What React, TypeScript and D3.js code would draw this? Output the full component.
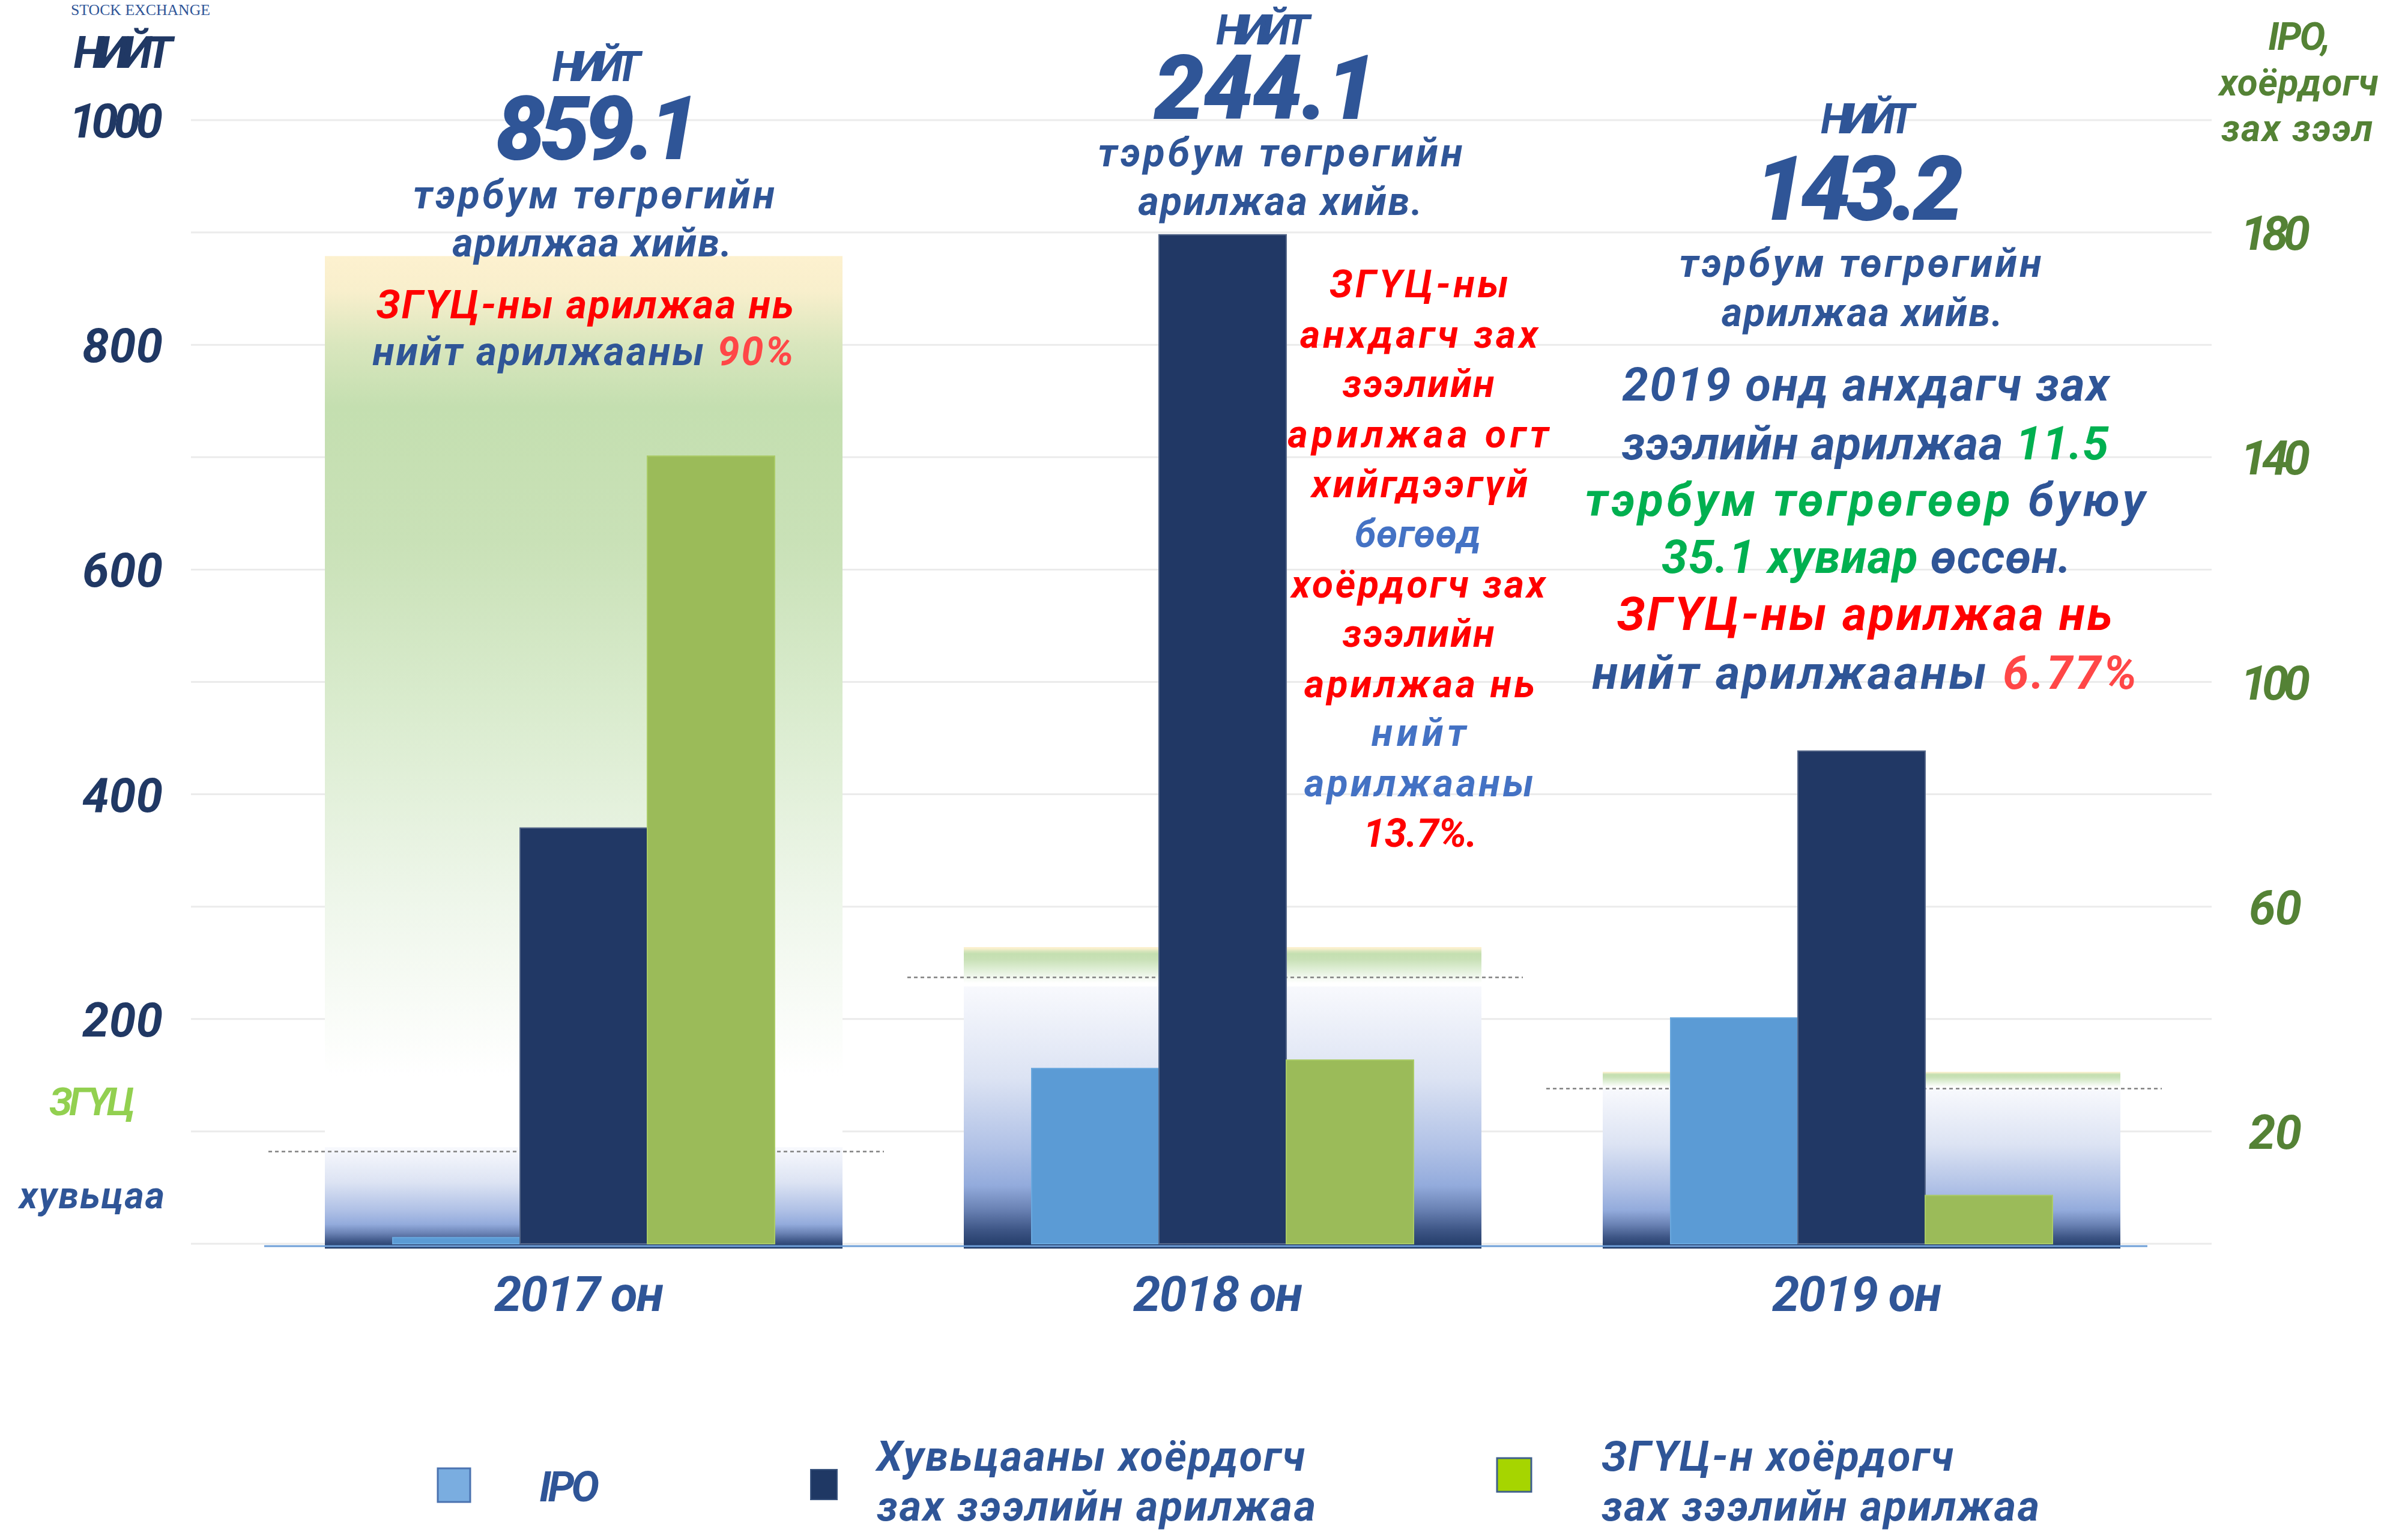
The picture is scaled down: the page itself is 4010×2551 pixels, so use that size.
import React from "react";
import * as d3 from "d3";

const W = 4010;
const H = 2551;

// ---------------- data ----------------
const years = ["2017 он", "2018 он", "2019 он"];
const seriesKeys = ["ipo", "stock", "gov"];
// right axis (IPO, secondary market), billion MNT
const ipoValues = [1.1, 31.2, 40.2];
const stockSecondaryValues = [74.0, 179.6, 87.7];
const govSecondaryValues = [140.2, 32.7, 8.6];
// left axis (total), background bands as drawn
const totalBandValues = [879, 264, 153];
const stockBandValues = [86, 229, 138];
const dividerValues = [82, 237, 138];
const totalLabels = ["859.1", "244.1", "143.2"];
const leftTicks = [200, 400, 600, 800, 1000];
const rightTicks = [20, 60, 100, 140, 180];

const seriesValues: Record<string, number[]> = {
  ipo: ipoValues,
  stock: stockSecondaryValues,
  gov: govSecondaryValues,
};
const seriesFill: Record<string, string> = { ipo: "#5b9bd5", stock: "#213865", gov: "#9bbb59" };
const seriesStroke: Record<string, string> = { ipo: "#6aa8de", stock: "#56688a", gov: "#aacb66" };

// ---------------- style ----------------
const FONT = "Roboto, 'Noto Sans', 'Open Sans', 'DejaVu Sans', sans-serif";
const NAVY = "#203864";
const BLUE = "#2f5597";
const LBLUE = "#4472c4";
const RED = "#ff0000";
const PINK = "#ff4747";
const AXGREEN = "#548235";
const GREEN = "#00b050";
const LIME = "#92d050";

type Part = { t: string; c: string };

function TLine(props: {
  x: number;
  y: number;
  size: number;
  len?: number;
  parts: Part[];
  anchor?: string;
  family?: string;
  italic?: boolean;
  weight?: number;
  adjust?: string;
}) {
  const { x, y, size, len, parts, anchor = "middle", family = FONT, italic = true, weight = 700, adjust = "spacing" } = props;
  return (
    <text
      x={x}
      y={y}
      fontSize={size}
      textLength={len}
      lengthAdjust={len ? adjust : undefined}
      textAnchor={anchor}
      fontFamily={family}
      fontStyle={italic ? "italic" : "normal"}
      fontWeight={weight}
      style={{ whiteSpace: "pre" }}
    >
      {parts.map((p, i) => (
        <tspan key={i} fill={p.c}>
          {p.t}
        </tspan>
      ))}
    </text>
  );
}

export default function App() {
  const yLeft = d3.scaleLinear().domain([0, 1000]).range([2071, 200]);
  const yRight = d3.scaleLinear().domain([0, 200]).range([2071, 200]);
  const x = d3.scalePoint<string>().domain(years).range([972, 3100]);
  const sub = d3.scaleBand<string>().domain(seriesKeys).range([-318, 318]);
  const bandHalf = 431;
  const base = yLeft(0);

  return (
    <svg
      width={W}
      height={H}
      viewBox={`0 0 ${W} ${H}`}
      style={{ position: "absolute", left: 0, top: 0, background: "#ffffff" }}
    >
      <defs>
        <linearGradient id="gradGov" x1="0" y1="0" x2="0" y2="1">
          <stop offset="0" stopColor="#fdf1cf" />
          <stop offset="0.04" stopColor="#f8efcc" />
          <stop offset="0.1" stopColor="#d9e6bd" />
          <stop offset="0.17" stopColor="#c4dfb0" />
          <stop offset="0.32" stopColor="#c9e1b7" />
          <stop offset="0.5" stopColor="#d9ebcd" />
          <stop offset="0.72" stopColor="#eef6ea" />
          <stop offset="0.92" stopColor="#ffffff" />
        </linearGradient>
        <linearGradient id="gradStock" x1="0" y1="0" x2="0" y2="1">
          <stop offset="0" stopColor="#f8f9fd" />
          <stop offset="0.35" stopColor="#dce3f3" />
          <stop offset="0.62" stopColor="#b0c1e6" />
          <stop offset="0.76" stopColor="#93abdc" />
          <stop offset="0.85" stopColor="#6a82b4" />
          <stop offset="0.93" stopColor="#3d5585" />
          <stop offset="1" stopColor="#1f3864" />
        </linearGradient>
      </defs>

      {/* header tiny logo text */}
      <text
        x={118}
        y={25}
        fontSize={25}
        fontFamily="'Liberation Serif', 'DejaVu Serif', serif"
        fill={BLUE}
        textLength={232}
        lengthAdjust="spacingAndGlyphs"
      >
        STOCK EXCHANGE
      </text>

      {/* gridlines */}
      {yLeft.ticks(10).map((v) => (
        <line key={v} x1={318} x2={3683} y1={yLeft(v)} y2={yLeft(v)} stroke="#ebebeb" strokeWidth={3} />
      ))}

      {/* background total bands */}
      {years.map((yr, i) => {
        const cx = x(yr)!;
        const yTop = yLeft(totalBandValues[i]);
        const yMid = yLeft(stockBandValues[i]);
        return (
          <g key={yr}>
            <rect x={cx - bandHalf} y={yTop} width={bandHalf * 2} height={yMid - yTop} fill="url(#gradGov)" />
            <rect x={cx - bandHalf} y={yMid} width={bandHalf * 2} height={base + 8 - yMid} fill="url(#gradStock)" />
          </g>
        );
      })}

      {/* dotted dividers */}
      {years.map((yr, i) => {
        const cx = x(yr)!;
        return (
          <line
            key={yr}
            x1={cx - 525}
            x2={cx + 500}
            y1={yLeft(dividerValues[i])}
            y2={yLeft(dividerValues[i])}
            stroke="#808080"
            strokeWidth={2.5}
            strokeDasharray="6 5"
          />
        );
      })}

      {/* bars */}
      {years.map((yr, i) => (
        <g key={yr} transform={`translate(${x(yr)},0)`}>
          {seriesKeys.map((k) => {
            const v = seriesValues[k][i];
            const yt = yRight(v);
            return (
              <rect
                key={k}
                x={sub(k)!}
                y={yt}
                width={sub.bandwidth()}
                height={base - yt}
                fill={seriesFill[k]}
                stroke={seriesStroke[k]}
                strokeWidth={2}
              />
            );
          })}
        </g>
      ))}

      {/* x axis line */}
      <line x1={440} x2={3576} y1={base + 4} y2={base + 4} stroke="#6f9fd8" strokeWidth={3} />

      {/* x labels */}
      {years.map((yr) => (
        <TLine key={yr} x={x(yr)! - 8} y={2183} size={82} len={282} parts={[{ t: yr, c: BLUE }]} />
      ))}

      {/* left axis */}
      <TLine x={205} y={113} size={74} len={165} parts={[{ t: "НИЙТ", c: NAVY }]} />
      {leftTicks.map((v) => (
        <TLine
          key={v}
          x={271}
          y={yLeft(v) + 29}
          size={80}
          anchor="end"
          len={v === 1000 ? 156 : 134}
          parts={[{ t: String(v), c: NAVY }]}
        />
      ))}
      <TLine x={82} y={1857} size={64} anchor="start" len={143} parts={[{ t: "ЗГҮЦ", c: LIME }]} />
      <TLine x={32} y={2012} size={62} anchor="start" len={242} parts={[{ t: "хувьцаа", c: BLUE }]} />

      {/* right axis */}
      <TLine x={3829} y={83} size={64} len={104} parts={[{ t: "IPO,", c: AXGREEN }]} />
      <TLine x={3828} y={159} size={62} len={265} parts={[{ t: "хоёрдогч", c: AXGREEN }]} />
      <TLine x={3825} y={235} size={62} len={252} parts={[{ t: "зах зээл", c: AXGREEN }]} />
      {rightTicks.map((v) => (
        <TLine
          key={v}
          x={3789}
          y={yRight(v) + 29}
          size={80}
          len={v >= 100 ? 116 : 88}
          parts={[{ t: String(v), c: AXGREEN }]}
        />
      ))}

      {/* 2017 block */}
      <TLine x={993} y={135} size={70} len={147} parts={[{ t: "НИЙТ", c: BLUE }]} />
      <TLine x={995} y={265} size={148} weight={900} len={339} parts={[{ t: totalLabels[0], c: BLUE }]} />
      <TLine x={989} y={347} size={66} len={602} parts={[{ t: "тэрбум төгрөгийн", c: BLUE }]} />
      <TLine x={986} y={427} size={66} len={465} parts={[{ t: "арилжаа хийв.", c: BLUE }]} />
      <TLine x={974} y={530} size={66} len={695} parts={[{ t: "ЗГҮЦ-ны арилжаа нь", c: RED }]} />
      <TLine
        x={971}
        y={608}
        size={66}
        len={701}
        parts={[
          { t: "нийт арилжааны ", c: BLUE },
          { t: "90%", c: PINK },
        ]}
      />

      {/* 2018 block */}
      <TLine x={2103} y={74} size={70} len={156} parts={[{ t: "НИЙТ", c: BLUE }]} />
      <TLine x={2107} y={198} size={150} weight={900} len={371} parts={[{ t: totalLabels[1], c: BLUE }]} />
      <TLine x={2132} y={277} size={66} len={607} parts={[{ t: "тэрбум төгрөгийн", c: BLUE }]} />
      <TLine x={2132} y={358} size={66} len={473} parts={[{ t: "арилжаа хийв.", c: BLUE }]} />

      {/* 2018 red annotation */}
      <TLine x={2363} y={495} size={64} len={298} parts={[{ t: "ЗГҮЦ-ны", c: RED }]} />
      <TLine x={2363} y={579} size={64} len={396} parts={[{ t: "анхдагч зах", c: RED }]} />
      <TLine x={2362} y={661} size={64} len={253} parts={[{ t: "зээлийн", c: RED }]} />
      <TLine x={2362} y={745} size={64} len={435} parts={[{ t: "арилжаа огт", c: RED }]} />
      <TLine x={2364} y={828} size={64} len={360} parts={[{ t: "хийгдээгүй", c: RED }]} />
      <TLine x={2361} y={911} size={64} len={210} parts={[{ t: "бөгөөд", c: LBLUE }]} />
      <TLine x={2362} y={995} size={64} len={423} parts={[{ t: "хоёрдогч зах", c: RED }]} />
      <TLine x={2362} y={1077} size={64} len={253} parts={[{ t: "зээлийн", c: RED }]} />
      <TLine x={2364} y={1161} size={64} len={384} parts={[{ t: "арилжаа нь", c: RED }]} />
      <TLine x={2363} y={1242} size={64} len={158} parts={[{ t: "нийт", c: LBLUE }]} />
      <TLine x={2363} y={1326} size={64} len={382} parts={[{ t: "арилжааны", c: LBLUE }]} />
      <TLine x={2365} y={1410} size={66} len={190} parts={[{ t: "13.7%.", c: RED }]} />

      {/* 2019 block */}
      <TLine x={3110} y={222} size={70} len={156} parts={[{ t: "НИЙТ", c: BLUE }]} />
      <TLine x={3096} y={366} size={150} weight={900} len={347} parts={[{ t: totalLabels[2], c: BLUE }]} />
      <TLine x={3098} y={461} size={66} len={603} parts={[{ t: "тэрбум төгрөгийн", c: BLUE }]} />
      <TLine x={3101} y={543} size={66} len={468} parts={[{ t: "арилжаа хийв.", c: BLUE }]} />

      {/* 2019 annotation */}
      <TLine x={3107} y={667} size={78} len={811} parts={[{ t: "2019 онд анхдагч зах", c: BLUE }]} />
      <TLine
        x={3106}
        y={765}
        size={78}
        len={811}
        parts={[
          { t: "зээлийн арилжаа ", c: BLUE },
          { t: "11.5", c: GREEN },
        ]}
      />
      <TLine
        x={3106}
        y={859}
        size={78}
        len={933}
        parts={[
          { t: "тэрбум төгрөгөөр", c: GREEN },
          { t: " буюу", c: BLUE },
        ]}
      />
      <TLine
        x={3108}
        y={954}
        size={78}
        len={682}
        parts={[
          { t: "35.1 хувиар", c: GREEN },
          { t: " өссөн.", c: BLUE },
        ]}
      />
      <TLine x={3105} y={1049} size={78} len={825} parts={[{ t: "ЗГҮЦ-ны арилжаа нь", c: RED }]} />
      <TLine
        x={3105}
        y={1147}
        size={78}
        len={907}
        parts={[
          { t: "нийт арилжааны ", c: BLUE },
          { t: "6.77%", c: PINK },
        ]}
      />

      {/* legend */}
      <rect x={729} y={2445} width={54} height={56} fill="#7aade0" stroke="#4a72b0" strokeWidth={3} />
      <TLine x={898} y={2500} size={70} anchor="start" len={100} parts={[{ t: "IPO", c: BLUE }]} />

      <rect x={1350} y={2447} width={44} height={50} fill="#1f3864" stroke="#3b557f" strokeWidth={2} />
      <TLine x={1460} y={2449} size={70} anchor="start" len={713} parts={[{ t: "Хувьцааны хоёрдогч", c: BLUE }]} />
      <TLine x={1460} y={2532} size={70} anchor="start" len={731} parts={[{ t: "зах зээлийн арилжаа", c: BLUE }]} />

      <rect x={2493} y={2428} width={57} height={56} fill="#a6d500" stroke="#3e5f8c" strokeWidth={3} />
      <TLine x={2667} y={2449} size={70} anchor="start" len={586} parts={[{ t: "ЗГҮЦ-н хоёрдогч", c: BLUE }]} />
      <TLine x={2667} y={2532} size={70} anchor="start" len={729} parts={[{ t: "зах зээлийн арилжаа", c: BLUE }]} />
    </svg>
  );
}
